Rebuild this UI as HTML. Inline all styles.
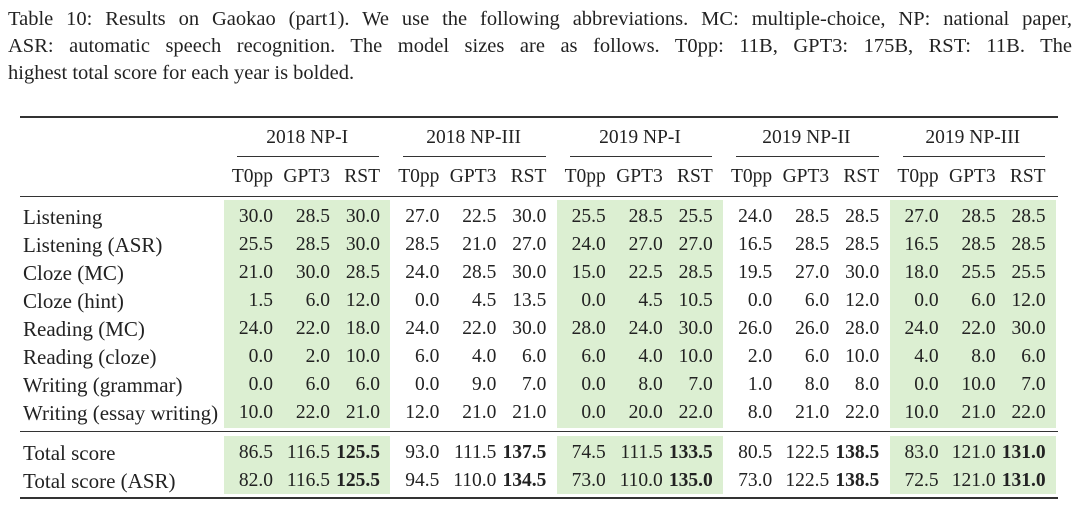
<!DOCTYPE html>
<html><head><meta charset="utf-8">
<style>
body{margin:0;width:1080px;height:507px;background:#fff;overflow:hidden;position:relative;font-family:"Liberation Serif",serif;color:#222}
.cap{position:absolute;left:8px;width:1064px;font-size:20.5px;line-height:27px;white-space:nowrap;text-align:justify;text-align-last:justify}
.a{position:absolute;white-space:nowrap;font-size:19.5px;line-height:22px}
.lbl{font-size:21px}
.rule{position:absolute;background:#333}
.green{position:absolute;background:#dcefd2}
</style></head>
<body>
<div class="cap" style="top:6px">Table 10: Results on Gaokao (part1). We use the following abbreviations. MC: multiple-choice, NP: national paper,</div>
<div class="cap" style="top:33px">ASR: automatic speech recognition. The model sizes are as follows. T0pp: 11B, GPT3: 175B, RST: 11B. The</div>
<div class="cap" style="top:60px;text-align-last:left">highest total score for each year is bolded.</div>
<div id="tbl"></div>
<script>
const groups=["2018 NP-I","2018 NP-III","2019 NP-I","2019 NP-II","2019 NP-III"];
const models=["T0pp","GPT3","RST"];
const rowLabels=["Listening","Listening (ASR)","Cloze (MC)","Cloze (hint)","Reading (MC)","Reading (cloze)","Writing (grammar)","Writing (essay writing)"];
const rowValues=[
["30.0","28.5","30.0","27.0","22.5","30.0","25.5","28.5","25.5","24.0","28.5","28.5","27.0","28.5","28.5"],
["25.5","28.5","30.0","28.5","21.0","27.0","24.0","27.0","27.0","16.5","28.5","28.5","16.5","28.5","28.5"],
["21.0","30.0","28.5","24.0","28.5","30.0","15.0","22.5","28.5","19.5","27.0","30.0","18.0","25.5","25.5"],
["1.5","6.0","12.0","0.0","4.5","13.5","0.0","4.5","10.5","0.0","6.0","12.0","0.0","6.0","12.0"],
["24.0","22.0","18.0","24.0","22.0","30.0","28.0","24.0","30.0","26.0","26.0","28.0","24.0","22.0","30.0"],
["0.0","2.0","10.0","6.0","4.0","6.0","6.0","4.0","10.0","2.0","6.0","10.0","4.0","8.0","6.0"],
["0.0","6.0","6.0","0.0","9.0","7.0","0.0","8.0","7.0","1.0","8.0","8.0","0.0","10.0","7.0"],
["10.0","22.0","21.0","12.0","21.0","21.0","0.0","20.0","22.0","8.0","21.0","22.0","10.0","21.0","22.0"]];
const totalLabels=["Total score","Total score (ASR)"];
const totalValues=[
["86.5","116.5","125.5","93.0","111.5","137.5","74.5","111.5","133.5","80.5","122.5","138.5","83.0","121.0","131.0"],
["82.0","116.5","125.5","94.5","110.0","134.5","73.0","110.0","135.0","73.0","122.5","138.5","72.5","121.0","131.0"]];
const T=document.getElementById('tbl');
const gx0=224,gw=166.4,colR=[49,106,156];
function el(cls,x,y,w,h){const d=document.createElement('div');d.className=cls;d.style.left=x+'px';d.style.top=y+'px';if(w!=null)d.style.width=w+'px';if(h!=null)d.style.height=h+'px';T.appendChild(d);return d;}
for(let g=0;g<5;g+=2){
 let d=el('green',gx0+g*gw,200,gw,228);
 
 
 d=el('green',gx0+g*gw,436,gw,58);
 
 
}
[[116,2.2],[196,1.3],[431,1.3],[497,2.2]].forEach(r=>{const d=el('rule',20,r[0],1038,r[1]);
 
 });
groups.forEach((g,i)=>{
 const x=gx0+i*gw;
 const h=el('a',x,127,gw);h.style.textAlign='center';h.textContent=g;
 
 
 const c=el('rule',x+13,156,gw-24,1.2);
 
 
 models.forEach((m,j)=>{const d=el('a',x+colR[j]-60,166,60);d.style.textAlign='right';d.textContent=m;
  if(j==0){d.style.left=(x+colR[j]-48)+'px';d.style.width='48px';}
  
  });
});
function row(label,vals,y,bold){
 const l=el('a lbl',23,y);l.textContent=label;
 
 
 vals.forEach((v,k)=>{const g=Math.floor(k/3),j=k%3;const d=el('a',gx0+g*gw+colR[j]-60,y,60);d.style.textAlign='right';d.textContent=v;
  if(bold&&j==2)d.style.fontWeight='bold';
  
  });
}
rowLabels.forEach((l,i)=>row(l,rowValues[i],206+i*28,false));
totalLabels.forEach((l,i)=>row(l,totalValues[i],442+i*28,true));
</script>
</body></html>
